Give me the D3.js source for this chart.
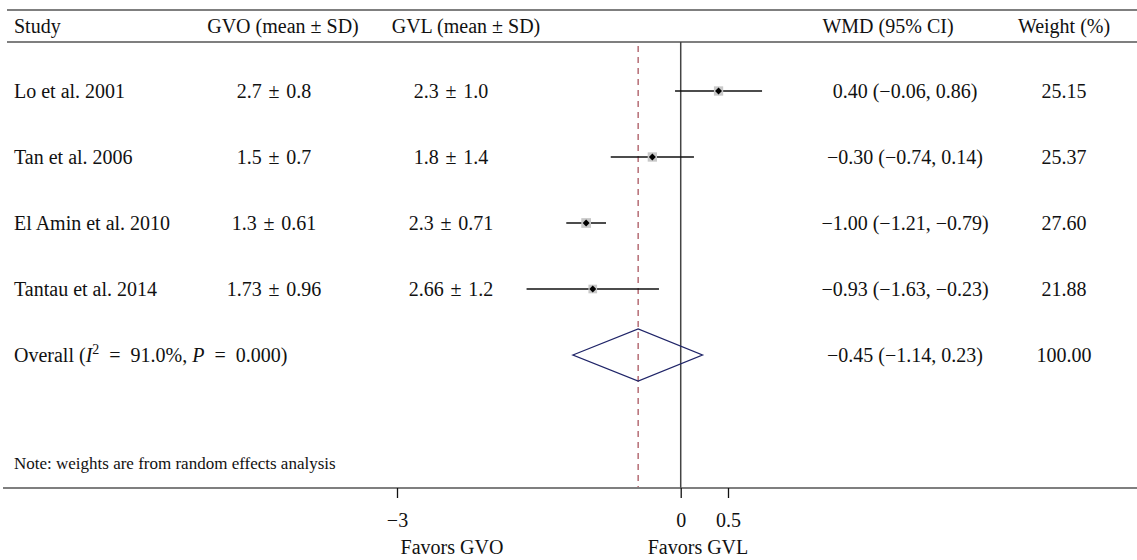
<!DOCTYPE html>
<html>
<head>
<meta charset="utf-8">
<script src="https://cdn.jsdelivr.net/npm/d3@7"></script>
<style>
  html, body { margin: 0; padding: 0; background: #fff; }
  svg { display: block; }
  text { font-family: "Liberation Serif", "DejaVu Serif", serif; font-size: 20px; fill: #111; }
</style>
</head>
<body>
<svg id="chart" width="1137" height="560"></svg>
<script>
// ---- data ----
const studies = ["Lo et al. 2001", "Tan et al. 2006", "El Amin et al. 2010", "Tantau et al. 2014"];
const gvoText = ["2.7 ± 0.8", "1.5 ± 0.7", "1.3 ± 0.61", "1.73 ± 0.96"];
const gvlText = ["2.3 ± 1.0", "1.8 ± 1.4", "2.3 ± 0.71", "2.66 ± 1.2"];
const wmd = [0.40, -0.30, -1.00, -0.93];
const ciLow = [-0.06, -0.74, -1.21, -1.63];
const ciHigh = [0.86, 0.14, -0.79, -0.23];
const weights = [25.15, 25.37, 27.60, 21.88];
const overallWmd = -0.45, overallLow = -1.14, overallHigh = 0.23, overallWeight = 100.00;
const headers = ["Study", "GVO (mean ± SD)", "GVL (mean ± SD)", "WMD (95% CI)", "Weight (%)"];
const tickValues = [-3, 0, 0.5];
const noteText = "Note: weights are from random effects analysis";
const favorLabels = ["Favors GVO", "Favors GVL"];

// ---- layout ----
const svg = d3.select("#chart");
const x = d3.scaleLinear().domain([-3, 0.5]).range([397, 728]);
const y = d3.scaleLinear().domain([0, 4]).range([91, 355]);
const colStudy = 14;
const headX = [14, 283, 466, 888, 1064];
const colGvo = 274, colGvl = 451, colWmd = 905, colWeight = 1064;
const headTop = 10, headBottom = 42, axisY = 488;
const f2 = d3.format(".2f");
const pm = s => s.replace(" ± ", " \u200A±\u200A ");

// header lines
svg.append("line").attr("x1", 7).attr("x2", 1137).attr("y1", headTop).attr("y2", headTop)
  .attr("stroke", "#555").attr("stroke-width", 1.6);
svg.append("line").attr("x1", 7).attr("x2", 1137).attr("y1", headBottom).attr("y2", headBottom)
  .attr("stroke", "#555").attr("stroke-width", 1.6);

// header text
const ha = ["start", "middle", "middle", "middle", "middle"];
headers.forEach((h, i) => {
  svg.append("text").attr("x", headX[i]).attr("y", 33).attr("text-anchor", ha[i]).text(h);
});

// reference lines
svg.append("line").attr("x1", x(overallWmd)).attr("x2", x(overallWmd))
  .attr("y1", 46).attr("y2", axisY - 1)
  .attr("stroke", "#b0626b").attr("stroke-width", 1.4).attr("stroke-dasharray", "6,5");
svg.append("line").attr("x1", x(0)).attr("x2", x(0))
  .attr("y1", headBottom).attr("y2", axisY)
  .attr("stroke", "#444").attr("stroke-width", 1.5);

// study rows
studies.forEach((s, i) => {
  const yy = y(i);
  svg.append("text").attr("x", colStudy).attr("y", yy + 7).text(s);
  svg.append("text").attr("x", colGvo).attr("y", yy + 7).attr("text-anchor", "middle").text(pm(gvoText[i]));
  svg.append("text").attr("x", colGvl).attr("y", yy + 7).attr("text-anchor", "middle").text(pm(gvlText[i]));
  svg.append("text").attr("x", colWmd).attr("y", yy + 7).attr("text-anchor", "middle")
    .text(`${f2(wmd[i])} (${f2(ciLow[i])}, ${f2(ciHigh[i])})`);
  svg.append("text").attr("x", colWeight).attr("y", yy + 7).attr("text-anchor", "middle").text(f2(weights[i]));
  // CI line
  svg.append("line").attr("x1", x(ciLow[i])).attr("x2", x(ciHigh[i]))
    .attr("y1", yy).attr("y2", yy).attr("stroke", "#111").attr("stroke-width", 1.3);
  // weight box
  const side = Math.sqrt(weights[i]) * 1.85;
  svg.append("rect").attr("x", x(wmd[i]) - side / 2).attr("y", yy - side / 2)
    .attr("width", side).attr("height", side).attr("fill", "#c8c8c8");
  // point
  svg.append("path").attr("d", d3.symbol(d3.symbolSquare, 24)())
    .attr("transform", `translate(${x(wmd[i])},${yy}) rotate(45)`).attr("fill", "#000");
});

// overall row
const yo = y(4);
const ov = svg.append("text").attr("x", colStudy).attr("y", yo + 7);
ov.append("tspan").text("Overall (");
ov.append("tspan").attr("font-style", "italic").text("I");
ov.append("tspan").style("font-size", "14px").attr("dy", -8).text("2");
ov.append("tspan").attr("dy", 8).text("\u2002=\u200291.0%, ");
ov.append("tspan").attr("font-style", "italic").text("P");
ov.append("tspan").text("\u2002=\u20020.000)");
svg.append("text").attr("x", colWmd).attr("y", yo + 7).attr("text-anchor", "middle")
  .text(`${f2(overallWmd)} (${f2(overallLow)}, ${f2(overallHigh)})`);
svg.append("text").attr("x", colWeight).attr("y", yo + 7).attr("text-anchor", "middle").text(f2(overallWeight));
const dh = 26;
svg.append("path")
  .attr("d", `M${x(overallLow)},${yo} L${x(overallWmd)},${yo - dh} L${x(overallHigh)},${yo} L${x(overallWmd)},${yo + dh} Z`)
  .attr("fill", "none").attr("stroke", "#1f2468").attr("stroke-width", 1.3);

// note
svg.append("text").attr("x", colStudy).attr("y", 469).style("font-size", "17px").text(noteText);

// axis
svg.append("line").attr("x1", 3).attr("x2", 1137).attr("y1", axisY).attr("y2", axisY)
  .attr("stroke", "#555").attr("stroke-width", 1.6);
const fmtTick = d => d === 0 ? "0" : (d3.format("")(d));
const axis = d3.axisBottom(x).tickValues(tickValues).tickSize(10).tickPadding(15).tickFormat(fmtTick);
const ag = svg.append("g").attr("transform", `translate(0,${axisY})`).call(axis);
ag.select(".domain").remove();
ag.selectAll(".tick line").attr("stroke", "#111").attr("stroke-width", 1.3);
ag.selectAll(".tick text").style("font-family", "Liberation Serif, serif").style("font-size", "20px").attr("fill", "#111");

// favors labels
svg.append("text").attr("x", 452).attr("y", 554).attr("text-anchor", "middle").text(favorLabels[0]);
svg.append("text").attr("x", 698).attr("y", 554).attr("text-anchor", "middle").text(favorLabels[1]);
</script>
</body>
</html>
